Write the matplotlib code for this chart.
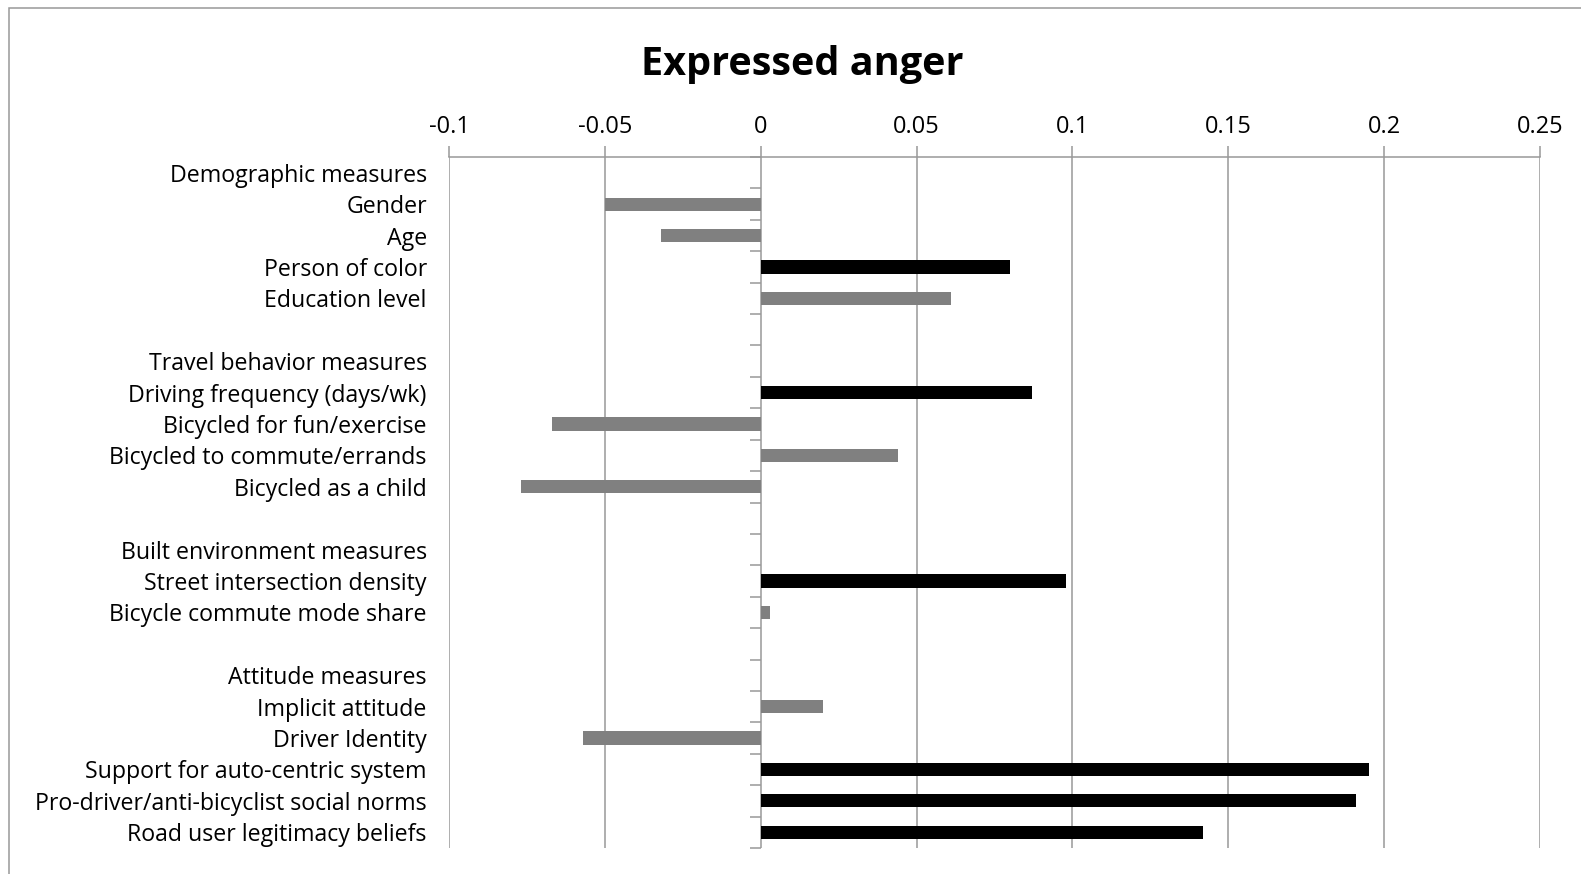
import matplotlib
matplotlib.use('Agg')
import matplotlib.pyplot as plt
from matplotlib.patches import Rectangle

plt.rcParams['font.family'] = ['Open Sans', 'DejaVu Sans']

categories = ['Demographic measures', 'Gender', 'Age', 'Person of color', 'Education level', '',
              'Travel behavior measures', 'Driving frequency (days/wk)', 'Bicycled for fun/exercise',
              'Bicycled to commute/errands', 'Bicycled as a child', '',
              'Built environment measures', 'Street intersection density', 'Bicycle commute mode share', '',
              'Attitude measures', 'Implicit attitude', 'Driver Identity', 'Support for auto-centric system',
              'Pro-driver/anti-bicyclist social norms', 'Road user legitimacy beliefs']
values = [0, -0.050, -0.032, 0.080, 0.061, 0,
          0, 0.087, -0.067, 0.044, -0.077, 0,
          0, 0.098, 0.003, 0,
          0, 0.020, -0.057, 0.195, 0.191, 0.142]
significant = [False, False, False, True, False, False,
               False, True, False, False, False, False,
               False, True, False, False,
               False, False, False, True, True, True]
xticks = [-0.1, -0.05, 0, 0.05, 0.1, 0.15, 0.2, 0.25]
xticklabels = ['-0.1', '-0.05', '0', '0.05', '0.1', '0.15', '0.2', '0.25']

fig = plt.figure(figsize=(15.81, 8.74), dpi=100)
ax = fig.add_axes([449 / 1581, 1 - 848 / 874, (1540 - 449) / 1581, (848 - 157) / 874])

n = len(categories)
ypos = list(range(n))
colors = ['black' if s else '#808080' for s in significant]
ax.barh(ypos, values, height=0.42, color=colors, zorder=3)

ax.set_xlim(-0.1, 0.25)
ax.set_ylim(n - 0.5, -0.5)
ax.set_xticks(xticks)
ax.set_xticklabels(xticklabels)
ax.xaxis.tick_top()
ax.tick_params(axis='x', length=8, width=1.1, color='#999999', labelsize=17, pad=5, labelcolor='black')
ax.grid(axis='x', color='#999999', linewidth=1.1, zorder=1)

ax.set_yticks(ypos)
ax.set_yticklabels(categories)
ax.tick_params(axis='y', length=0, pad=16, labelsize=16.7)

for side in ['left', 'right', 'bottom']:
    ax.spines[side].set_visible(False)
ax.spines['top'].set_color('#999999')
ax.spines['top'].set_linewidth(1.1)

# category tick marks on the zero line
sec = ax.secondary_yaxis((0 - xticks[0]) / (xticks[-1] - xticks[0]))
sec.set_yticks([i - 0.5 for i in range(n + 1)])
sec.set_yticklabels([])
sec.tick_params(axis='y', length=8, width=1.1, color='#999999')
sec.spines['left'].set_visible(False)

fig.text(802 / 1581, 1 - 65 / 874, 'Expressed anger', ha='center', va='center',
         fontsize=28.5, fontweight='bold')

fig.patches.append(Rectangle((9 / 1581, -0.01), 1.0, 1 - 8 / 874 + 0.01, transform=fig.transFigure,
                             fill=False, edgecolor='#999999', linewidth=1.1))

fig.savefig('out.png', dpi=100)
